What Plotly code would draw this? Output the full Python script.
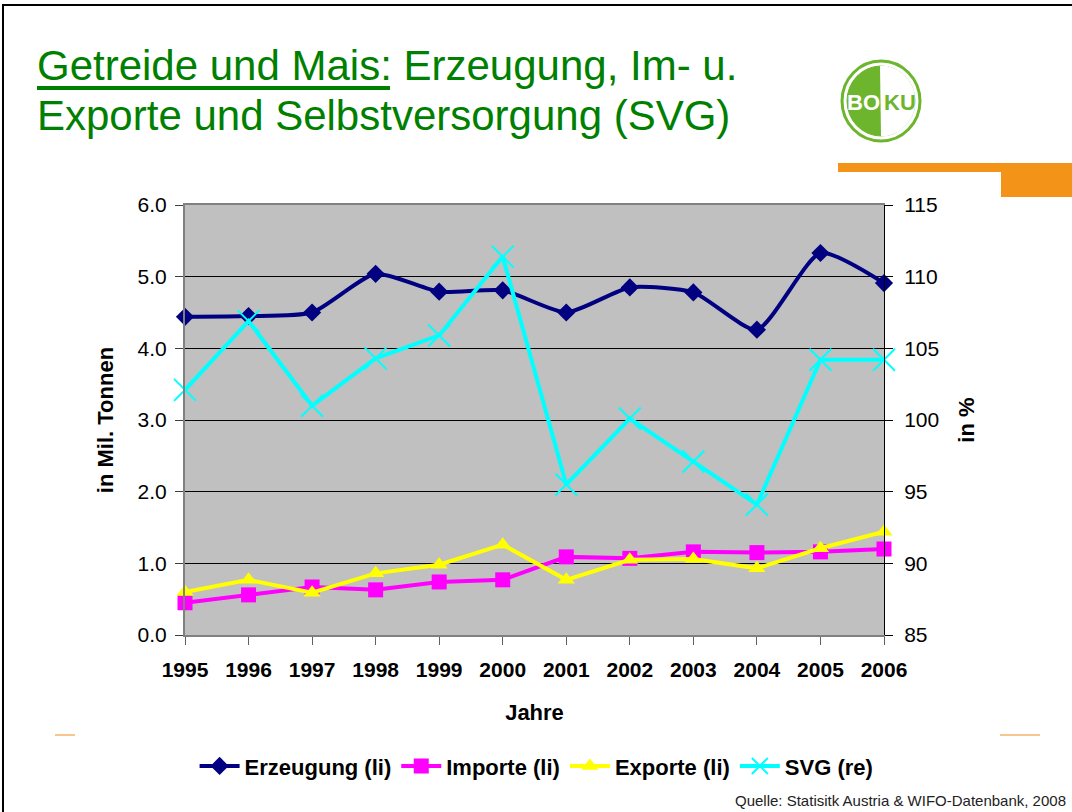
import math
import plotly.graph_objects as go

years = [1995, 1996, 1997, 1998, 1999, 2000, 2001, 2002, 2003, 2004, 2005, 2006]
erzeugung = [4.44, 4.45, 4.50, 5.04, 4.79, 4.81, 4.50, 4.85, 4.78, 4.26, 5.33, 4.91]
importe = [0.45, 0.56, 0.67, 0.63, 0.74, 0.77, 1.09, 1.07, 1.16, 1.15, 1.16, 1.20]
exporte = [0.60, 0.77, 0.59, 0.86, 0.98, 1.26, 0.77, 1.05, 1.06, 0.93, 1.21, 1.44]
svg = [102.1, 106.9, 101.0, 104.3, 105.9, 111.4, 95.5, 100.1, 97.1, 94.1, 104.2, 104.2]

left_ticks = [0, 1, 2, 3, 4, 5, 6]
right_ticks = [85, 90, 95, 100, 105, 110, 115]

FONT = "Liberation Sans, Arial, sans-serif"
GREEN = "#008000"
LOGO_GREEN = "#6cb52d"

fig = go.Figure()
fig.add_trace(go.Scatter(x=years, y=erzeugung, name="Erzeugung (li)", mode="lines+markers",
                         line=dict(color="#000080", width=4, shape="spline", smoothing=0.6),
                         marker=dict(symbol="diamond", size=14, color="#000080"), cliponaxis=False))
fig.add_trace(go.Scatter(x=years, y=importe, name="Importe (li)", mode="lines+markers",
                         line=dict(color="#ff00ff", width=4),
                         marker=dict(symbol="square", size=15, color="#ff00ff"), cliponaxis=False))
fig.add_trace(go.Scatter(x=years, y=exporte, name="Exporte (li)", mode="lines+markers",
                         line=dict(color="#ffff00", width=4),
                         marker=dict(symbol="triangle-up", size=15, color="#ffff00"), cliponaxis=False))
fig.add_trace(go.Scatter(x=years, y=svg, name="SVG (re)", mode="lines+markers", yaxis="y2",
                         line=dict(color="#00ffff", width=4),
                         marker=dict(symbol="x-thin", size=22, color="#00ffff",
                                     line=dict(color="#00ffff", width=2)), cliponaxis=False))

fig.update_layout(
    width=1072, height=812,
    margin=dict(l=185, r=188, t=205, b=177),
    paper_bgcolor="white", plot_bgcolor="#c0c0c0",
    font=dict(family=FONT, size=21, color="black"),
    showlegend=True,
    legend=dict(orientation="h", x=0.503, xanchor="center", y=-0.305, yanchor="middle",
                font=dict(family=FONT, size=22, color="black", weight="bold"),
                bgcolor="rgba(0,0,0,0)", itemwidth=40, tracegroupgap=0),
    xaxis=dict(range=[1995, 2006], tickvals=years, ticktext=[f"<b>{y}</b>" for y in years],
               showgrid=False, zeroline=False, showline=True, linecolor="#808080", linewidth=2,
               mirror=True, ticks="outside", ticklen=8, tickcolor="#606060",
               tickfont=dict(size=21), ticklabelstandoff=7,
               title=dict(text="<b>Jahre</b>", font=dict(size=22), standoff=24)),
    yaxis=dict(range=[0, 6], tickvals=left_ticks, tickformat=".1f",
               showgrid=True, gridcolor="black", gridwidth=1, zeroline=False,
               showline=True, linecolor="#808080", linewidth=2,
               ticks="outside", ticklen=8, tickcolor="#404040", tickfont=dict(size=21),
               ticklabelstandoff=4,
               title=dict(text="<b>in Mil. Tonnen</b>", font=dict(size=22), standoff=18)),
    yaxis2=dict(range=[85, 115], tickvals=right_ticks, overlaying="y", side="right",
                showgrid=False, zeroline=False, showline=True, linecolor="black", linewidth=1,
                ticks="outside", ticklen=8, tickcolor="black", tickfont=dict(size=21),
                ticklabelstandoff=7,
                title=dict(text="<b>in %</b>", font=dict(size=22), standoff=20)),
)


def px(xp):
    return (xp - 185) / 699


def py(yp):
    return (635 - yp) / 430


# slide frame
fig.add_shape(type="rect", xref="paper", yref="paper", x0=px(3), x1=px(1090), y0=py(830), y1=py(5),
              line=dict(color="black", width=2), fillcolor="rgba(0,0,0,0)", layer="below")

# title
fig.add_annotation(text="Getreide und Mais: Erzeugung, Im- u.", xref="paper", yref="paper",
                   x=px(35), y=py(66), xanchor="left", yanchor="middle",
                   showarrow=False, font=dict(family=FONT, size=42, color=GREEN))
fig.add_annotation(text="Exporte und Selbstversorgung (SVG)", xref="paper", yref="paper",
                   x=px(35), y=py(116), xanchor="left", yanchor="middle",
                   showarrow=False, font=dict(family=FONT, size=42, color=GREEN))
fig.add_shape(type="line", xref="paper", yref="paper", x0=px(37), x1=px(390), y0=py(88), y1=py(88),
              line=dict(color=GREEN, width=4))

# logo
fig.add_shape(type="circle", xref="paper", yref="paper", x0=px(842), x1=px(920), y0=py(141), y1=py(61),
              fillcolor="white", line=dict(color=LOGO_GREEN, width=3))
fig.add_shape(type="circle", xref="paper", yref="paper", x0=px(847), x1=px(915), y0=py(136), y1=py(66),
              fillcolor=LOGO_GREEN, line=dict(color=LOGO_GREEN, width=1))
half = "M {},{} ".format(px(880), py(66))
pts = []
for k in range(0, 19):
    a = math.pi / 2 - k * math.pi / 18
    pts.append((px(881 + 34.5 * math.cos(a)), py(101 - 35.5 * math.sin(a))))
half += " ".join("L {},{}".format(a, b) for a, b in pts) + " Z"
fig.add_shape(type="path", xref="paper", yref="paper", path=half, fillcolor="white", line=dict(width=0))
fig.add_annotation(text="<b>BO</b>", xref="paper", yref="paper", x=px(882), y=py(103), xanchor="right",
                   yanchor="middle", showarrow=False, font=dict(family=FONT, size=22, color="white"))
fig.add_annotation(text="<b>KU</b>", xref="paper", yref="paper", x=px(882), y=py(103), xanchor="left",
                   yanchor="middle", showarrow=False, font=dict(family=FONT, size=22, color=LOGO_GREEN))

# orange bar
fig.add_shape(type="rect", xref="paper", yref="paper", x0=px(838), x1=px(1072), y0=py(197), y1=py(163),
              fillcolor="#f39419", line=dict(width=0), layer="below")
fig.add_shape(type="rect", xref="paper", yref="paper", x0=px(838), x1=px(1001), y0=py(200), y1=py(172),
              fillcolor="white", line=dict(width=0), layer="below")
# small orange lines
fig.add_shape(type="line", xref="paper", yref="paper", x0=px(55), x1=px(75), y0=py(735), y1=py(735),
              line=dict(color="#f5b36a", width=1.5))
fig.add_shape(type="line", xref="paper", yref="paper", x0=px(1000), x1=px(1040), y0=py(735), y1=py(735),
              line=dict(color="#f5b36a", width=1.5))

# source
fig.add_annotation(text="Quelle: Statisitk Austria & WIFO-Datenbank, 2008", xref="paper", yref="paper",
                   x=px(1068), y=py(800), xanchor="right", yanchor="middle", showarrow=False,
                   font=dict(family=FONT, size=15, color="#222222"))

fig.write_html("out.html", config={"displayModeBar": False},
               post_script="document.body.style.margin='0px';document.body.style.overflow='hidden';")
